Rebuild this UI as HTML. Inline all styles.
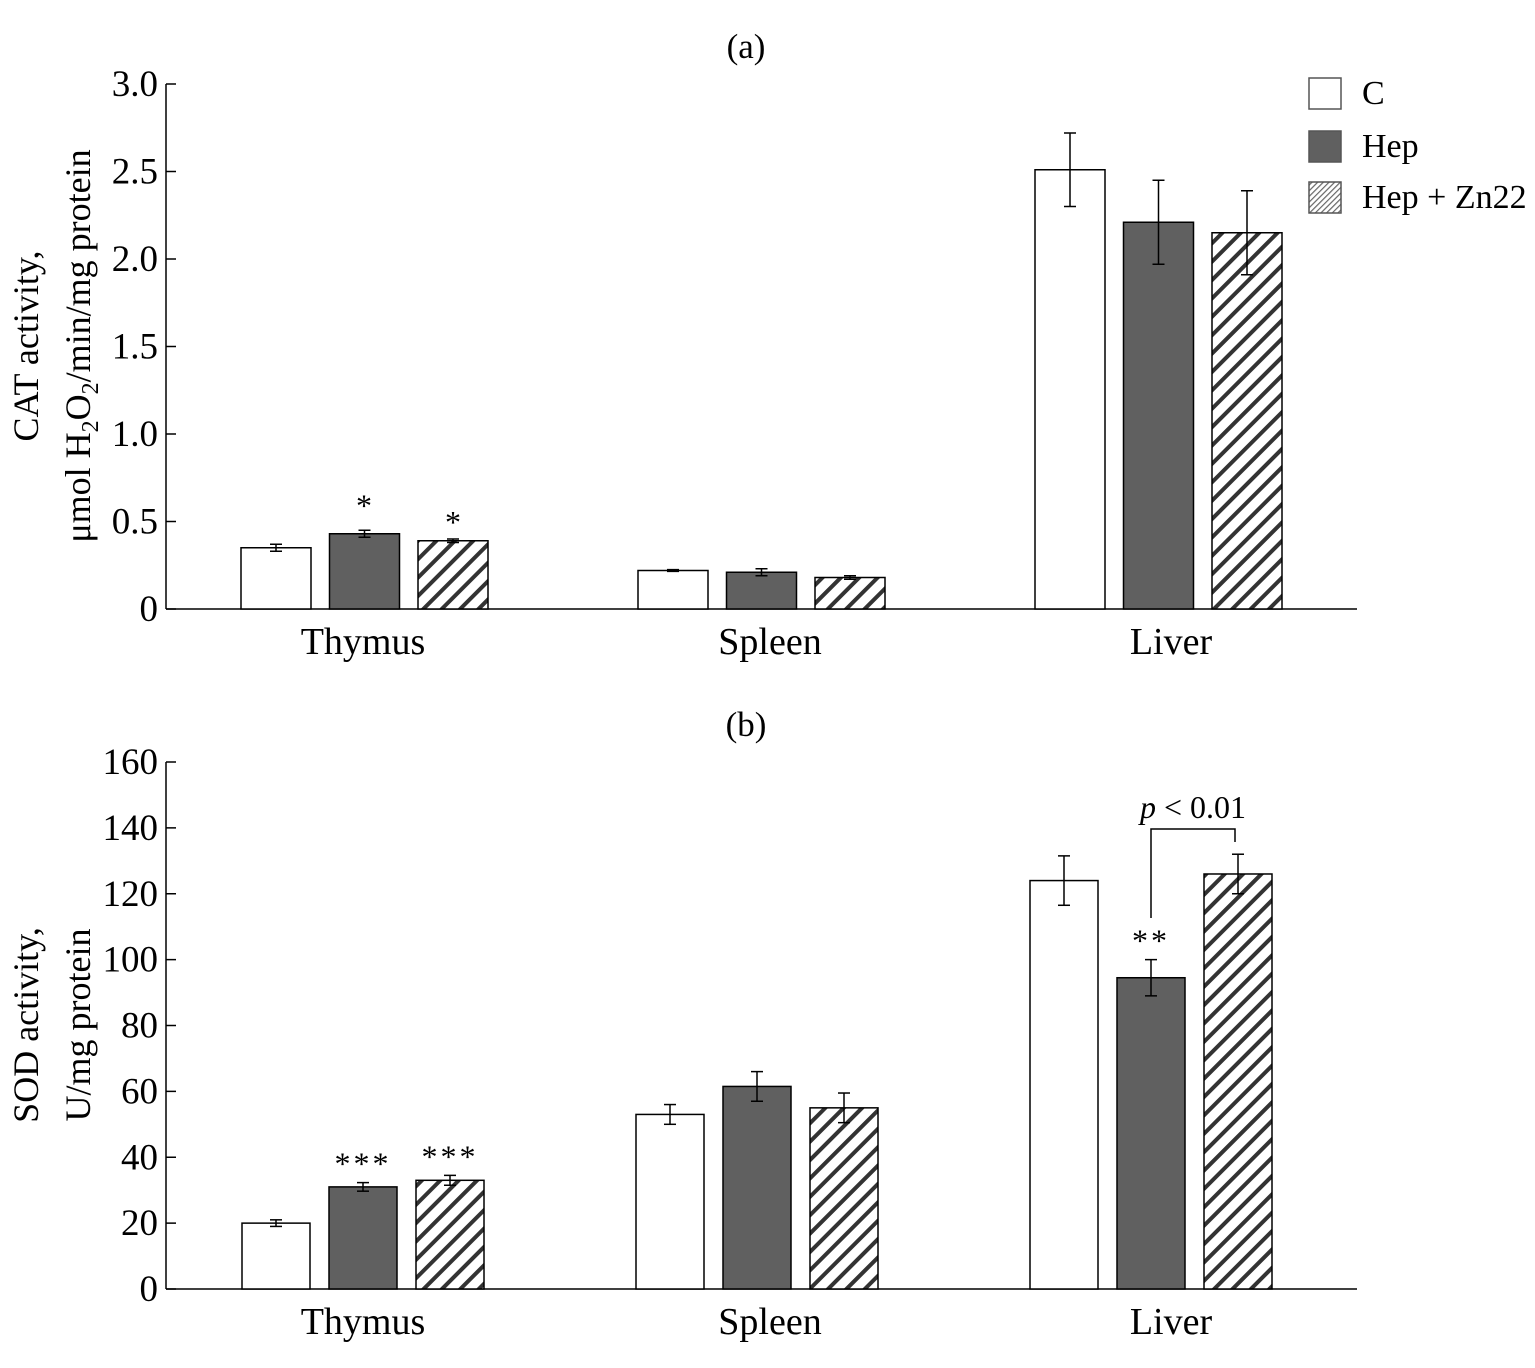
<!DOCTYPE html>
<html><head><meta charset="utf-8"><style>
body{margin:0;background:#fff;}
svg{display:block;font-family:"Liberation Serif",serif;}
</style></head><body>
<svg id="c" width="1535" height="1368" viewBox="0 0 1535 1368" xmlns="http://www.w3.org/2000/svg">
<defs>
<pattern id="hatch" patternUnits="userSpaceOnUse" width="13" height="13" patternTransform="rotate(45)">
<rect width="13" height="13" fill="#fff"/><rect x="0" y="0" width="4" height="13" fill="#333"/>
</pattern>
<pattern id="hatchS" patternUnits="userSpaceOnUse" width="4" height="4" patternTransform="rotate(45)">
<rect width="4" height="4" fill="#fff"/><rect width="1.2" height="4" fill="#666"/>
</pattern>
</defs>
<g id="root"></g>
</svg>
<script>
const categories=["Thymus","Spleen","Liver"];
const seriesNames=["C","Hep","Hep + Zn22"];
const catC=[0.35,0.22,2.51];
const catHep=[0.43,0.21,2.21];
const catZn=[0.39,0.18,2.15];
const catErrC=[0.02,0.005,0.21];
const catErrHep=[0.02,0.02,0.24];
const catErrZn=[0.01,0.01,0.24];
const catTicks=["0","0.5","1.0","1.5","2.0","2.5","3.0"];
const catTickVals=[0,0.5,1,1.5,2,2.5,3];
const sodC=[20,53,124];
const sodHep=[31,61.5,94.5];
const sodZn=[33,55,126];
const sodErrC=[1,3,7.5];
const sodErrHep=[1.3,4.5,5.5];
const sodErrZn=[1.5,4.5,6];
const sodTicks=["0","20","40","60","80","100","120","140","160"];
const sodTickVals=[0,20,40,60,80,100,120,140,160];
const catStars=["*","*"];
const sodStars=["***","***","**"];

const NS="http://www.w3.org/2000/svg";
const root=document.getElementById('root');
function mk(tag,attrs,parent,name,text){const e=document.createElementNS(NS,tag);for(const k in attrs)e.setAttribute(k,attrs[k]);


if(text!==undefined)e.textContent=text;(parent||root).appendChild(e);return e;}
const fills=["#fff","#606060","url(#hatch)"];
const labelX=[363,770,1171];
function panel(o){
  const g=mk('g',{},root,o.name);
  const y=v=>o.y0-(v/o.max)*(o.y0-o.yTop);
  mk('line',{x1:166,y1:o.yTop,x2:166,y2:o.y0,stroke:'#000','stroke-width':1.5},g,'y-axis');
  mk('line',{x1:166,y1:o.y0,x2:1357,y2:o.y0,stroke:'#000','stroke-width':1.5},g,'x-axis');
  o.tickVals.forEach((v,i)=>{
    mk('line',{x1:166,y1:y(v),x2:176,y2:y(v),stroke:'#000','stroke-width':1.5},g,'y-tick');
    mk('text',{x:158,y:y(v)+12,'text-anchor':'end','font-size':37},g,'y-tick-label',o.ticks[i]);
  });
  const series=[o.a,o.b,o.c],errs=[o.ea,o.eb,o.ec];
  categories.forEach((cat,ci)=>{
    const gx=o.gx[ci];
    series.forEach((s,si)=>{
      const x=gx+si*o.step, v=s[ci], e=errs[si][ci];
      mk('rect',{x:x,y:y(v),width:o.bw,height:o.y0-y(v),fill:fills[si],stroke:'#000','stroke-width':1.5},g,'bar-'+cat.toLowerCase()+'-'+si);
      const cx=x+o.bw/2;
      mk('line',{x1:cx,y1:y(v+e),x2:cx,y2:y(v-e),stroke:'#000','stroke-width':1.5},g,'error-bar');
      mk('line',{x1:cx-6,y1:y(v+e),x2:cx+6,y2:y(v+e),stroke:'#000','stroke-width':1.5},g,'error-cap');
      mk('line',{x1:cx-6,y1:y(v-e),x2:cx+6,y2:y(v-e),stroke:'#000','stroke-width':1.5},g,'error-cap');
    });
    mk('text',{x:labelX[ci],y:o.y0+45,'text-anchor':'middle','font-size':38},g,'x-tick-label',cat);
  });
  mk('text',{x:746,y:o.yTop-26,'text-anchor':'middle','font-size':35},g,'panel-label',o.label);
  return {g,y};
}
const A=panel({name:'panel-a-cat',yTop:84,y0:609,max:3,tickVals:catTickVals,ticks:catTicks,a:catC,b:catHep,c:catZn,ea:catErrC,eb:catErrHep,ec:catErrZn,gx:[241,638,1035],step:88.5,bw:70,label:'(a)'});
mk('text',{x:364,y:A.y(catHep[0]+0.02)-14,'text-anchor':'middle','font-size':32},A.g,'significance-star',catStars[0]);
mk('text',{x:453,y:A.y(catZn[0]+0.01)-6,'text-anchor':'middle','font-size':32},A.g,'significance-star',catStars[1]);
const B=panel({name:'panel-b-sod',yTop:762,y0:1289,max:160,tickVals:sodTickVals,ticks:sodTicks,a:sodC,b:sodHep,c:sodZn,ea:sodErrC,eb:sodErrHep,ec:sodErrZn,gx:[242,636,1030],step:87,bw:68,label:'(b)'});
mk('text',{x:363,y:B.y(sodHep[0]+1.3)-8,'text-anchor':'middle','font-size':32,'letter-spacing':3},B.g,'significance-star',sodStars[0]);
mk('text',{x:450,y:B.y(sodZn[0]+1.5)-8,'text-anchor':'middle','font-size':32,'letter-spacing':3},B.g,'significance-star',sodStars[1]);
mk('text',{x:1151,y:B.y(sodHep[2]+5.5)-8,'text-anchor':'middle','font-size':32,'letter-spacing':3},B.g,'significance-star',sodStars[2]);
mk('polyline',{points:'1151,918 1151,829 1235,829 1235,842',fill:'none',stroke:'#000','stroke-width':1.5},B.g,'significance-bracket');
const pt=mk('text',{x:1193,y:818,'text-anchor':'middle','font-size':32},B.g,'p-value-label');
const ts=mk('tspan',{'font-style':'italic'},pt,'p-symbol','p');pt.appendChild(document.createTextNode(' < 0.01'));
// legend
const lg=mk('g',{},root,'legend');
[["#fff",93],["#606060",146],["url(#hatchS)",197]].forEach((d,i)=>{
  mk('rect',{x:1309,y:d[1]-15,width:32,height:31,fill:d[0],stroke:'#555','stroke-width':1.5},lg,'legend-swatch');
  mk('text',{x:1362,y:d[1]+11,'font-size':34},lg,'legend-entry',seriesNames[i]);
});
// y titles
mk('text',{transform:'translate(38,346) rotate(-90)','text-anchor':'middle','font-size':36},root,'y-axis-title-a','CAT activity,');
const yb=mk('text',{transform:'translate(90,346) rotate(-90)','text-anchor':'middle','font-size':36},root,'y-axis-title-a-units');
yb.innerHTML='μmol H<tspan font-size="24" dy="8">2</tspan><tspan dy="-8">O</tspan><tspan font-size="24" dy="8">2</tspan><tspan dy="-8">/min/mg protein</tspan>';
mk('text',{transform:'translate(38,1025) rotate(-90)','text-anchor':'middle','font-size':36},root,'y-axis-title-b','SOD activity,');
mk('text',{transform:'translate(90,1025) rotate(-90)','text-anchor':'middle','font-size':36},root,'y-axis-title-b-units','U/mg protein');
</script>
</body></html>
